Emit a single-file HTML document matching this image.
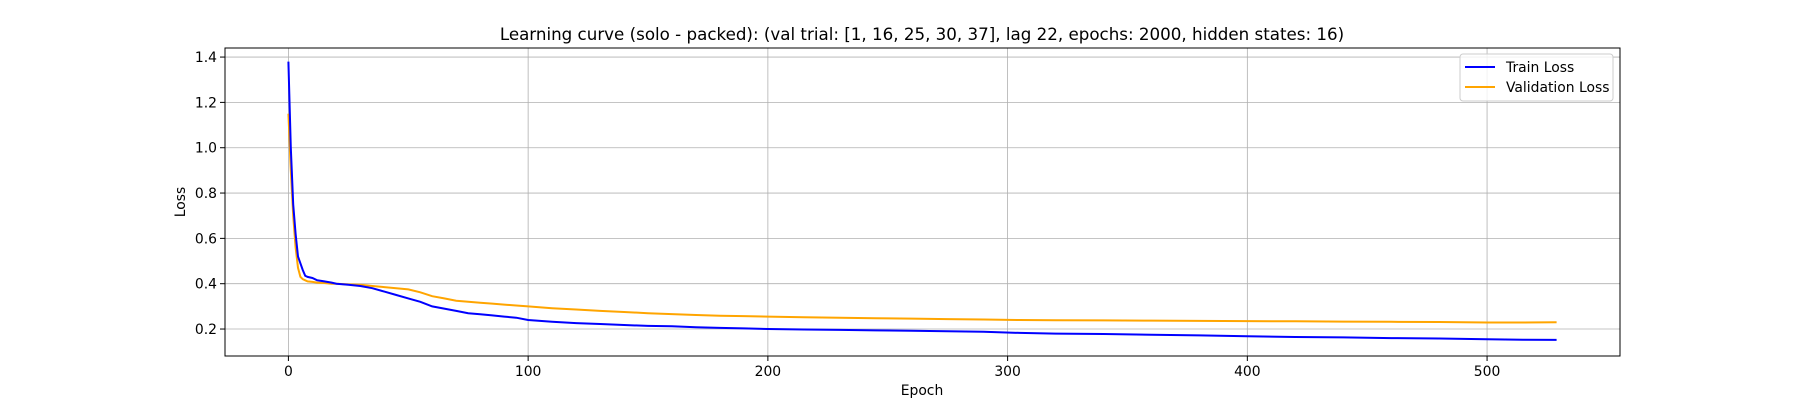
<!DOCTYPE html>
<html><head><meta charset="utf-8"><style>
body{margin:0;background:#fff}
svg{display:block;font-family:"DejaVu Sans","Liberation Sans",sans-serif}
</style></head><body>
<svg id="chart" width="1800" height="400" viewBox="0 0 1800 400" xmlns="http://www.w3.org/2000/svg">
<rect width="1800" height="400" fill="#fff"/>
<text x="922" y="40" font-size="16.7" text-anchor="middle">Learning curve (solo - packed): (val trial: [1, 16, 25, 30, 37], lag 22, epochs: 2000, hidden states: 16)</text>
<g id="grid"></g>
<g id="series"></g>
<rect x="225" y="48" width="1395" height="308" fill="none" stroke="#000" stroke-width="1"/>
<g id="ticks"></g>
<text x="922" y="395" font-size="13.9" text-anchor="middle">Epoch</text>
<text x="185" y="202" font-size="13.9" text-anchor="middle" transform="rotate(-90 185 202)">Loss</text>
<g>
<rect x="1460" y="54" width="153" height="47" rx="3" fill="#fff" fill-opacity="0.8" stroke="#ccc"/>
<line x1="1465" y1="67" x2="1495" y2="67" stroke="#0000ff" stroke-width="2"/>
<text x="1506" y="72" font-size="13.9">Train Loss</text>
<line x1="1465" y1="87" x2="1495" y2="87" stroke="#ffa500" stroke-width="2"/>
<text x="1506" y="92" font-size="13.9">Validation Loss</text>
</g>
</svg>
<script>
const epochs = [0,1,2,3,4,5,6,7,8,10,12,15,18,20,25,30,35,40,45,50,55,60,65,70,75,80,85,90,95,100,110,120,130,140,150,160,170,180,190,200,215,230,245,260,275,290,305,320,340,360,380,400,420,440,460,480,500,515,529];
const trainLoss = [1.38,1.0,0.75,0.62,0.52,0.49,0.46,0.435,0.43,0.425,0.415,0.41,0.405,0.40,0.395,0.39,0.38,0.365,0.35,0.335,0.32,0.30,0.29,0.28,0.27,0.265,0.26,0.255,0.25,0.24,0.232,0.226,0.222,0.218,0.214,0.212,0.208,0.205,0.203,0.20,0.198,0.196,0.194,0.192,0.19,0.188,0.183,0.18,0.178,0.175,0.172,0.168,0.165,0.163,0.16,0.158,0.155,0.153,0.152];
const valLoss = [1.15,0.9,0.7,0.56,0.47,0.43,0.42,0.415,0.41,0.408,0.405,0.403,0.40,0.40,0.397,0.395,0.39,0.385,0.38,0.375,0.362,0.345,0.335,0.325,0.32,0.316,0.312,0.308,0.304,0.30,0.292,0.286,0.28,0.275,0.27,0.266,0.262,0.259,0.257,0.255,0.252,0.25,0.248,0.246,0.244,0.242,0.24,0.239,0.238,0.237,0.236,0.235,0.234,0.233,0.232,0.231,0.229,0.229,0.23];
const xTicks = [0,100,200,300,400,500];
const yTicks = [0.2,0.4,0.6,0.8,1.0,1.2,1.4];
const X0=225,X1=1620,Y0=48,Y1=356, xMin=-26.45,xMax=555.45,yMin=0.081,yMax=1.44;
const sx=v=>X0+(v-xMin)/(xMax-xMin)*(X1-X0);
const sy=v=>Y1-(v-yMin)/(yMax-yMin)*(Y1-Y0);
const NS="http://www.w3.org/2000/svg";
const grid=document.getElementById('grid'),ticks=document.getElementById('ticks'),series=document.getElementById('series');
function mk(tag,attrs,parent){const e=document.createElementNS(NS,tag);for(const k in attrs)e.setAttribute(k,attrs[k]);parent.appendChild(e);return e;}
xTicks.forEach(t=>{
  const g=mk('line',{x1:sx(t),x2:sx(t),y1:Y0,y2:Y1,stroke:'#b0b0b0','stroke-width':0.8},grid);
  
  
  const tk=mk('line',{x1:sx(t),x2:sx(t),y1:Y1,y2:Y1+5,stroke:'#000'},ticks);
  
  
  const l=mk('text',{x:sx(t),y:Y1+20,'font-size':13.9,'text-anchor':'middle'},ticks);
  l.textContent=String(t);
  
  
});
yTicks.forEach(t=>{
  const g=mk('line',{x1:X0,x2:X1,y1:sy(t),y2:sy(t),stroke:'#b0b0b0','stroke-width':0.8},grid);
  
  
  const tk=mk('line',{x1:X0-5,x2:X0,y1:sy(t),y2:sy(t),stroke:'#000'},ticks);
  
  
  const l=mk('text',{x:X0-8,y:sy(t)+5,'font-size':13.9,'text-anchor':'end'},ticks);
  l.textContent=t.toFixed(1);
  
  
});
function pts(vals){return epochs.map((e,i)=>sx(e).toFixed(1)+','+sy(vals[i]).toFixed(1)).join(' ');}
const pv=mk('polyline',{points:pts(valLoss),fill:'none',stroke:'#ffa500','stroke-width':2},series);


const pt=mk('polyline',{points:pts(trainLoss),fill:'none',stroke:'#0000ff','stroke-width':2},series);


</script>
</body></html>
